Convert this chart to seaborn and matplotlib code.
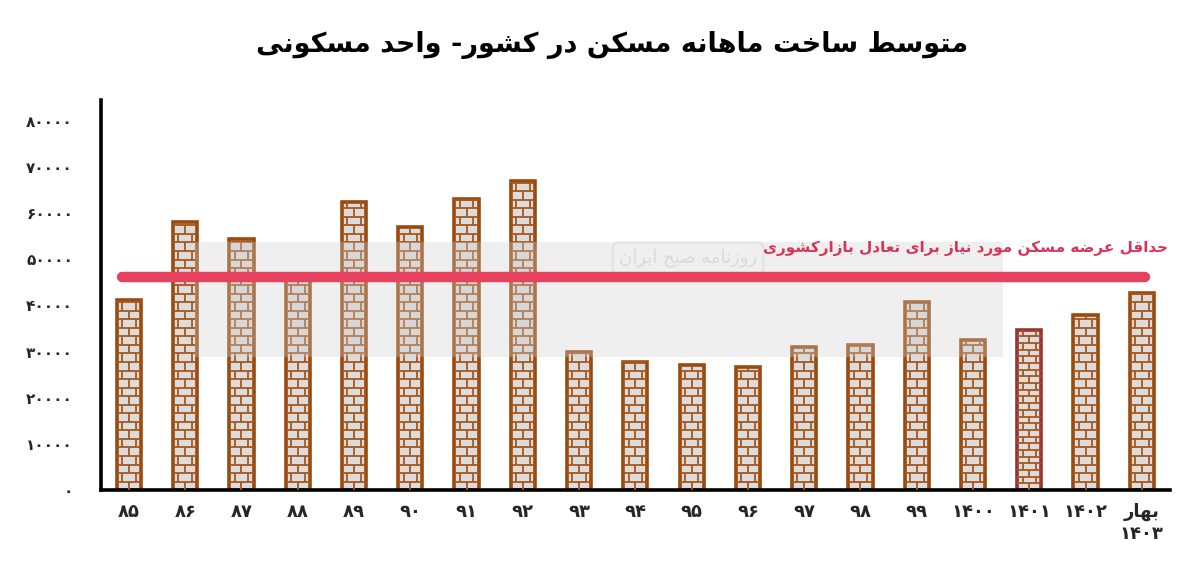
import matplotlib
matplotlib.use('Agg')
import matplotlib.pyplot as plt
import seaborn as sns
import pandas as pd
import numpy as np
from matplotlib.collections import LineCollection
from matplotlib.patches import Rectangle

# ---------------- data ----------------
categories = ['۸۵', '۸۶', '۸۷', '۸۸', '۸۹', '۹۰', '۹۱', '۹۲', '۹۳', '۹۴',
              '۹۵', '۹۶', '۹۷', '۹۸', '۹۹', '۱۴۰۰', '۱۴۰۱', '۱۴۰۲', 'بهار\n۱۴۰۳']
values = [41100, 58000, 54300, 45500, 62400, 57000, 63000, 67000, 30000, 27800,
          27200, 26700, 31100, 31500, 40700, 32600, 34600, 38000, 42800]
threshold = 46100
yticks = [0, 10000, 20000, 30000, 40000, 50000, 60000, 70000, 80000]
title = 'متوسط ساخت ماهانه مسکن در کشور- واحد مسکونی'
threshold_label = 'حداقل عرضه مسکن مورد نیاز برای تعادل بازارکشوری'
watermark = 'روزنامه صبح ایران'

# ---------------- minimal Arabic/Persian shaper ----------------
FORMS = {
    '\u0627': ('\uFE8D', '\uFE8E'),
    '\u0622': ('\uFE81', '\uFE82'),
    '\u0628': ('\uFE8F', '\uFE90', '\uFE91', '\uFE92'),
    '\u067E': ('\uFB56', '\uFB57', '\uFB58', '\uFB59'),
    '\u062A': ('\uFE95', '\uFE96', '\uFE97', '\uFE98'),
    '\u062B': ('\uFE99', '\uFE9A', '\uFE9B', '\uFE9C'),
    '\u062C': ('\uFE9D', '\uFE9E', '\uFE9F', '\uFEA0'),
    '\u0686': ('\uFB7A', '\uFB7B', '\uFB7C', '\uFB7D'),
    '\u062D': ('\uFEA1', '\uFEA2', '\uFEA3', '\uFEA4'),
    '\u062E': ('\uFEA5', '\uFEA6', '\uFEA7', '\uFEA8'),
    '\u062F': ('\uFEA9', '\uFEAA'),
    '\u0630': ('\uFEAB', '\uFEAC'),
    '\u0631': ('\uFEAD', '\uFEAE'),
    '\u0632': ('\uFEAF', '\uFEB0'),
    '\u0698': ('\uFB8A', '\uFB8B'),
    '\u0633': ('\uFEB1', '\uFEB2', '\uFEB3', '\uFEB4'),
    '\u0634': ('\uFEB5', '\uFEB6', '\uFEB7', '\uFEB8'),
    '\u0635': ('\uFEB9', '\uFEBA', '\uFEBB', '\uFEBC'),
    '\u0636': ('\uFEBD', '\uFEBE', '\uFEBF', '\uFEC0'),
    '\u0637': ('\uFEC1', '\uFEC2', '\uFEC3', '\uFEC4'),
    '\u0638': ('\uFEC5', '\uFEC6', '\uFEC7', '\uFEC8'),
    '\u0639': ('\uFEC9', '\uFECA', '\uFECB', '\uFECC'),
    '\u063A': ('\uFECD', '\uFECE', '\uFECF', '\uFED0'),
    '\u0641': ('\uFED1', '\uFED2', '\uFED3', '\uFED4'),
    '\u0642': ('\uFED5', '\uFED6', '\uFED7', '\uFED8'),
    '\u06A9': ('\uFB8E', '\uFB8F', '\uFB90', '\uFB91'),
    '\u06AF': ('\uFB92', '\uFB93', '\uFB94', '\uFB95'),
    '\u0644': ('\uFEDD', '\uFEDE', '\uFEDF', '\uFEE0'),
    '\u0645': ('\uFEE1', '\uFEE2', '\uFEE3', '\uFEE4'),
    '\u0646': ('\uFEE5', '\uFEE6', '\uFEE7', '\uFEE8'),
    '\u0648': ('\uFEED', '\uFEEE'),
    '\u0647': ('\uFEE9', '\uFEEA', '\uFEEB', '\uFEEC'),
    '\u06CC': ('\uFBFC', '\uFBFD', '\uFBFE', '\uFBFF'),
}


def shape_line(s):
    out = []
    n = len(s)
    for i, ch in enumerate(s):
        if ch not in FORMS:
            out.append(ch)
            continue
        f = FORMS[ch]
        prev = s[i - 1] if i > 0 else ''
        nxt = s[i + 1] if i + 1 < n else ''
        pj = prev in FORMS and len(FORMS[prev]) == 4
        nj = nxt in FORMS and len(f) == 4
        if pj and nj:
            out.append(f[3])
        elif pj:
            out.append(f[1])
        elif nj:
            out.append(f[2])
        else:
            out.append(f[0])
    res = ''.join(out)
    if any(c in FORMS for c in s):
        res = res[::-1]
    return res


def shape(s):
    return '\n'.join(shape_line(l) for l in s.split('\n'))


PDIG = str.maketrans('0123456789', '۰۱۲۳۴۵۶۷۸۹')

# ---------------- figure ----------------
sns.set_style('white')
plt.rcParams['font.family'] = ['DejaVu Sans']
plt.rcParams['axes.linewidth'] = 2.6

fig = plt.figure(figsize=(12, 5.68), dpi=100)
ax = fig.add_axes([0.084, 0.137, 0.891, 0.687])

df = pd.DataFrame({'cat': categories, 'val': values})
sns.barplot(data=df, x='cat', y='val', order=categories, color='#dcdcdc',
            width=0.43, ax=ax, saturation=1, zorder=2)

edge_main = '#9a4a0c'
edge_1401 = '#983434'
brick_col = '#a8561c'
for i, p in enumerate(ax.patches):
    ec = edge_1401 if i == 16 else edge_main
    p.set_edgecolor(ec)
    p.set_linewidth(2.6)
    x0, w, h = p.get_x(), p.get_width(), p.get_height()
    step = 1450 if i == 16 else 1850
    segs = []
    ys = np.arange(0, h, step)
    for r, yb in enumerate(ys):
        yt = min(yb + step, h)
        if r > 0:
            segs.append([(x0, yb), (x0 + w, yb)])
        if r % 2 == 0:
            xs = [x0 + w * 0.5]
        else:
            xs = [x0 + w * 0.22, x0 + w * 0.78]
        for xv in xs:
            segs.append([(xv, yb), (xv, yt)])
    lc = LineCollection(segs, colors=brick_col, linewidths=1.3, zorder=3)
    lc.set_clip_path(p)
    ax.add_collection(lc)

ax.set_xlim(-0.5, 18.5)
ax.set_ylim(0, 84500)
ax.set_yticks(yticks)
ax.set_yticklabels([str(v).translate(PDIG) for v in yticks],
                   fontsize=11, fontweight='bold')
ax.set_xticks(range(len(categories)))
ax.set_xticklabels([shape(c) for c in categories], fontsize=13,
                   fontweight='bold', linespacing=1.3)
ax.tick_params(axis='y', length=0, pad=20)
ax.tick_params(axis='x', length=0, pad=9)
ax.set_xlabel('')
ax.set_ylabel('')
for s in ['top', 'right']:
    ax.spines[s].set_visible(False)
ax.spines['left'].set_color('black')
ax.spines['bottom'].set_color('black')

# watermark panel (between bars and threshold line)
ax.add_patch(Rectangle((195 / 1200, 1 - 357 / 568), 808 / 1200, 115 / 568,
                       transform=fig.transFigure, facecolor='#cfcfcf',
                       alpha=0.33, edgecolor='none', zorder=4, clip_on=False))
ax.text(688 / 1200, 1 - 258 / 568, shape(watermark), transform=fig.transFigure,
        ha='center', va='center', fontsize=13, color='#dadada', zorder=4.5,
        bbox=dict(boxstyle='round,pad=0.35', facecolor='none',
                  edgecolor='#e2e2e2', lw=1.5))

# threshold line
ax.axhline(threshold, xmin=0.02, xmax=0.977, color='#e6425e', lw=7.5,
           solid_capstyle='round', zorder=6)
ax.annotate(shape(threshold_label), xy=(0.998, threshold),
            xycoords=('axes fraction', 'data'), xytext=(0, 21),
            textcoords='offset points', ha='right', va='center',
            fontsize=11, fontweight='bold', color='#d8345a', zorder=7)

# title
fig.text(0.51, 1 - 45 / 568, shape(title), ha='center', va='center',
         fontsize=19.5, fontweight='bold', color='black')

fig.savefig('out.png', dpi=100)
